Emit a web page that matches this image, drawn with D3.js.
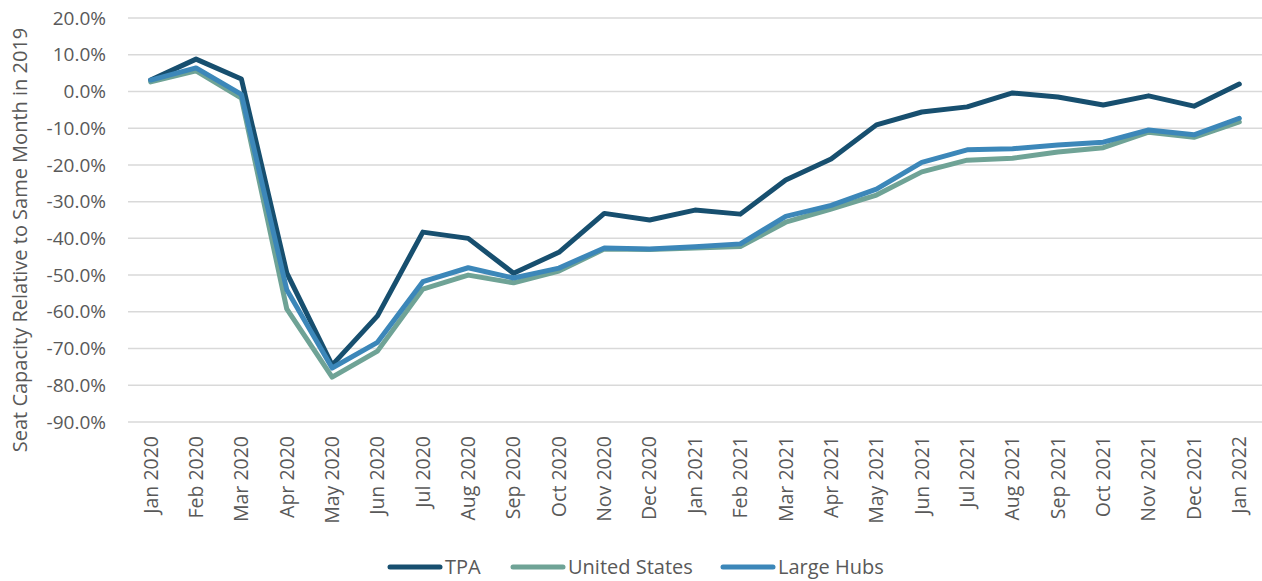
<!DOCTYPE html>
<html>
<head>
<meta charset="utf-8">
<script src="https://cdn.jsdelivr.net/npm/d3@7"></script>
<style>
  body { margin: 0; background: #fff; }
  svg text { font-family: "Open Sans", "Noto Sans", sans-serif; fill: #595959; }
</style>
</head>
<body>
<svg id="chart" width="1262" height="581"></svg>
<script>
// months on the x axis
var months = ["Jan 2020","Feb 2020","Mar 2020","Apr 2020","May 2020","Jun 2020","Jul 2020","Aug 2020",
  "Sep 2020","Oct 2020","Nov 2020","Dec 2020","Jan 2021","Feb 2021","Mar 2021","Apr 2021","May 2021",
  "Jun 2021","Jul 2021","Aug 2021","Sep 2021","Oct 2021","Nov 2021","Dec 2021","Jan 2022"];

// seat capacity vs same month in 2019 (%)
var tpa = [3.1, 8.8, 3.4, -49.4, -74.5, -61.1, -38.3, -40.0, -49.5, -43.8, -33.2, -35.0, -32.3,
  -33.4, -24.1, -18.4, -9.1, -5.6, -4.2, -0.4, -1.5, -3.7, -1.2, -4.0, 2.0];
var unitedStates = [2.6, 5.6, -1.8, -59.2, -77.8, -70.7, -53.8, -50.0, -52.1, -48.9, -42.9, -43.0, -42.6,
  -42.2, -35.6, -32.0, -28.2, -21.9, -18.7, -18.2, -16.5, -15.3, -11.1, -12.5, -8.3];
var largeHubs = [3.1, 6.4, -0.8, -54.0, -75.3, -68.3, -51.8, -48.0, -50.8, -48.1, -42.6, -42.9, -42.3,
  -41.5, -34.0, -31.0, -26.6, -19.3, -15.9, -15.6, -14.6, -13.8, -10.5, -11.8, -7.3];

var yTicks = [20, 10, 0, -10, -20, -30, -40, -50, -60, -70, -80, -90];

var series = [
  {name: "TPA", values: tpa, color: "#174f6f"},
  {name: "United States", values: unitedStates, color: "#6fa396"},
  {name: "Large Hubs", values: largeHubs, color: "#3c87b9"}
];

var svg = d3.select("#chart");
var margin = {left: 128, right: 0, top: 18, bottom: 159};
var width = 1262 - margin.left - margin.right;
var height = 581 - margin.top - margin.bottom;

var x = d3.scaleBand().domain(months).range([margin.left, margin.left + width]);
var y = d3.scaleLinear().domain([-90, 20]).range([margin.top + height, margin.top]);

// gridlines
svg.append("g")
  .selectAll("line")
  .data(yTicks)
  .enter().append("line")
  .attr("x1", margin.left).attr("x2", margin.left + width)
  .attr("y1", function(d){ return y(d); })
  .attr("y2", function(d){ return y(d); })
  .attr("stroke", "#d9d9d9")
  .attr("stroke-width", 1.5);

// y axis labels
var yAxis = svg.append("g")
  .attr("transform", "translate(" + (margin.left - 22) + ",0)")
  .call(d3.axisLeft(y).tickValues(yTicks).tickSize(0).tickPadding(0)
    .tickFormat(function(d){ return d.toFixed(1) + "%"; }));
yAxis.select(".domain").remove();
yAxis.selectAll("text").attr("font-size", "19px").attr("fill", "#595959")
  .style("font-family", "'Open Sans', sans-serif");

// x axis labels (rotated)
var xAxis = svg.append("g")
  .attr("transform", "translate(0," + (margin.top + height) + ")")
  .call(d3.axisBottom(x).tickSize(0).tickPadding(0));
xAxis.select(".domain").remove();
xAxis.selectAll("text")
  .attr("font-size", "19.5px")
  .attr("fill", "#595959")
  .style("font-family", "'Open Sans', sans-serif")
  .attr("text-anchor", "end")
  .attr("transform", "rotate(-90)")
  .attr("x", -14)
  .attr("y", 0)
  .attr("dy", "0.35em");

// y axis title
svg.append("text")
  .attr("transform", "translate(27,240) rotate(-90)")
  .attr("text-anchor", "middle")
  .attr("font-size", "20px")
  .text("Seat Capacity Relative to Same Month in 2019");

// lines
var line = d3.line()
  .x(function(d, i){ return x(months[i]) + x.bandwidth() / 2; })
  .y(function(d){ return y(d); });

series.forEach(function(s){
  svg.append("path")
    .datum(s.values)
    .attr("fill", "none")
    .attr("stroke", s.color)
    .attr("stroke-width", 5)
    .attr("stroke-linejoin", "round")
    .attr("stroke-linecap", "round")
    .attr("d", line);
});

// legend
var legendX = [387, 510, 720];
var legend = svg.append("g");
series.forEach(function(s, i){
  var g = legend.append("g").attr("transform", "translate(" + legendX[i] + ",567)");
  g.append("line")
    .attr("x1", 3).attr("x2", 53)
    .attr("stroke", s.color).attr("stroke-width", 5).attr("stroke-linecap", "round");
  g.append("text")
    .attr("x", 58).attr("dy", "0.35em")
    .attr("font-size", "20px")
    .text(s.name);
});
</script>
</body>
</html>
